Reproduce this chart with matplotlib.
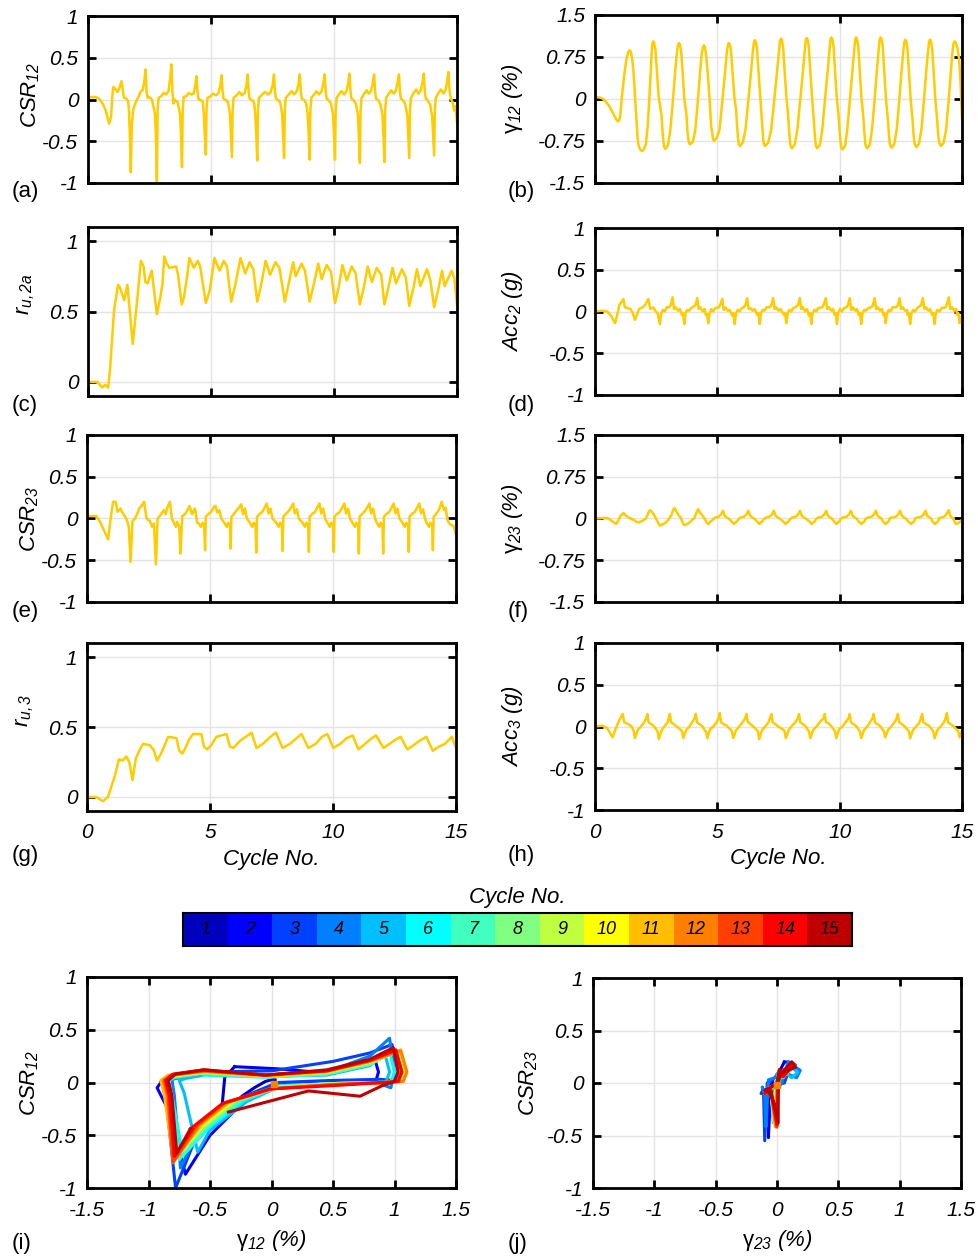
import numpy as np
import matplotlib
matplotlib.use("Agg")
import matplotlib.pyplot as plt

plt.rcParams['font.family'] = ['Liberation Sans', 'DejaVu Sans']
plt.rcParams['font.style'] = 'italic'
plt.rcParams['mathtext.fontset'] = 'custom'
plt.rcParams['mathtext.rm'] = 'Liberation Sans:italic'
plt.rcParams['mathtext.it'] = 'Liberation Sans:italic'
plt.rcParams['mathtext.sf'] = 'Liberation Sans:italic'
plt.rcParams['mathtext.bf'] = 'Liberation Sans:italic:bold'
plt.rcParams['axes.unicode_minus'] = False

# ---------------- data: CSR12 / gamma12 (shared time base) ----------------
t12 = [0.00, 0.15, 0.30, 0.45, 0.60, 0.72, 0.86, 0.94, 0.99, 1.03, 1.10, 1.20, 1.28,
       1.36, 1.42, 1.46, 1.52, 1.58, 1.63, 1.67, 1.71, 1.74, 1.78, 1.84, 1.92, 2.00, 2.08, 2.15, 2.22, 2.28, 2.31,
       2.34, 2.38, 2.42, 2.47, 2.53, 2.60, 2.72, 2.76, 2.80, 2.83, 2.87, 2.98, 3.08, 3.18, 3.27, 3.34,
       3.39, 3.43, 3.47, 3.52, 3.58, 3.64, 3.74, 3.78, 3.82, 3.85, 3.89, 4.00, 4.10, 4.20, 4.29, 4.36,
       4.41, 4.45, 4.49, 4.54, 4.60, 4.67, 4.71, 4.75, 4.79, 4.82, 4.86, 4.98, 5.09, 5.20, 5.31, 5.38,
       5.43, 5.47, 5.51, 5.56, 5.62, 5.69, 5.77, 5.81, 5.85, 5.88, 5.92, 6.04, 6.15, 6.26, 6.37, 6.44,
       6.49, 6.53, 6.57, 6.62, 6.68, 6.75, 6.80, 6.84, 6.88, 6.91, 6.95, 7.08, 7.20, 7.32, 7.43, 7.51,
       7.56, 7.60, 7.64, 7.69, 7.75, 7.82, 7.89, 7.93, 7.97, 8.00, 8.04, 8.16, 8.27, 8.38, 8.49, 8.56,
       8.61, 8.65, 8.69, 8.74, 8.80, 8.87, 8.93, 8.97, 9.01, 9.04, 9.08, 9.19, 9.29, 9.39, 9.50, 9.57,
       9.62, 9.66, 9.70, 9.75, 9.81, 9.88, 9.96, 10.00, 10.04, 10.07, 10.11, 10.22, 10.31, 10.41, 10.51, 10.58,
       10.63, 10.67, 10.71, 10.76, 10.82, 10.89, 10.97, 11.01, 11.05, 11.08, 11.12, 11.23, 11.32, 11.42, 11.51, 11.58,
       11.63, 11.67, 11.71, 11.76, 11.82, 11.89, 11.97, 12.01, 12.05, 12.08, 12.12, 12.23, 12.33, 12.43, 12.52, 12.59,
       12.64, 12.68, 12.72, 12.77, 12.83, 12.90, 12.98, 13.02, 13.06, 13.09, 13.13, 13.24, 13.34, 13.44, 13.53, 13.60,
       13.65, 13.69, 13.73, 13.78, 13.84, 13.91, 13.99, 14.03, 14.07, 14.10, 14.14, 14.25, 14.35, 14.45, 14.54, 14.60,
       14.65, 14.70, 14.75, 14.82, 14.88, 14.94, 15.00]
gam12 = [0.03, 0.03, 0.01, -0.05, -0.14, -0.24, -0.36, -0.40, -0.38, -0.30, 0.05, 0.45, 0.70,
         0.84, 0.87, 0.85, 0.72, 0.45, 0.10, -0.20, -0.50, -0.70, -0.82, -0.90, -0.93, -0.90, -0.80, -0.50, 0.00, 0.50, 0.80,
         0.98, 1.03, 1.00, 0.88, 0.50, 0.05, -0.30, -0.58, -0.78, -0.86, -0.89, -0.83, -0.55, -0.05, 0.45, 0.80,
         0.96, 1.00, 0.97, 0.85, 0.50, 0.05, -0.30, -0.58, -0.74, -0.79, -0.81, -0.76, -0.55, -0.05, 0.45, 0.80,
         0.92, 0.96, 0.93, 0.80, 0.50, 0.08, -0.20, -0.50, -0.60, -0.71, -0.75, -0.69, -0.55, -0.05, 0.45, 0.80,
         0.96, 1.00, 0.97, 0.85, 0.50, 0.07, -0.22, -0.50, -0.72, -0.81, -0.84, -0.78, -0.55, -0.05, 0.45, 0.80,
         1.00, 1.05, 1.02, 0.90, 0.50, 0.06, -0.25, -0.52, -0.75, -0.81, -0.84, -0.78, -0.55, -0.05, 0.45, 0.80,
         1.03, 1.08, 1.05, 0.92, 0.50, 0.05, -0.28, -0.54, -0.77, -0.85, -0.88, -0.82, -0.55, -0.05, 0.45, 0.80,
         1.04, 1.09, 1.06, 0.93, 0.50, 0.04, -0.30, -0.56, -0.78, -0.85, -0.88, -0.82, -0.55, -0.05, 0.45, 0.80,
         1.05, 1.10, 1.07, 0.94, 0.50, 0.03, -0.32, -0.58, -0.80, -0.87, -0.90, -0.84, -0.55, -0.05, 0.45, 0.80,
         1.05, 1.10, 1.07, 0.94, 0.50, 0.02, -0.34, -0.60, -0.80, -0.85, -0.88, -0.82, -0.55, -0.05, 0.45, 0.80,
         1.05, 1.10, 1.07, 0.94, 0.50, 0.01, -0.36, -0.62, -0.80, -0.84, -0.87, -0.81, -0.55, -0.05, 0.45, 0.80,
         1.01, 1.06, 1.03, 0.90, 0.50, 0.00, -0.38, -0.64, -0.79, -0.83, -0.86, -0.80, -0.55, -0.05, 0.45, 0.80,
         1.01, 1.06, 1.03, 0.90, 0.50, -0.01, -0.40, -0.66, -0.77, -0.81, -0.84, -0.78, -0.55, -0.05, 0.45, 0.80,
         0.99, 1.03, 1.00, 0.90, 0.72, 0.30, -0.35]
csr12 = [0.02, 0.03, 0.03, 0.01, -0.05, -0.13, -0.29, -0.20, 0.05, 0.15, 0.13, 0.09, 0.14,
         0.22, 0.10, 0.02, 0.02, 0.00, -0.02, -0.15, -0.50, -0.87, -0.30, -0.12, -0.05, 0.00, 0.05, 0.10, 0.11, 0.20, 0.28,
         0.36, 0.10, 0.02, 0.03, 0.02, 0.00, -0.17, -0.42, -1.00, -0.12, 0.02, 0.04, 0.08, 0.06, 0.10, 0.25,
         0.42, 0.10, -0.05, 0.00, -0.02, -0.03, -0.17, -0.42, -0.81, -0.12, 0.03, 0.04, 0.08, 0.06, 0.07, 0.16,
         0.28, 0.10, 0.00, 0.00, -0.01, -0.03, -0.18, -0.45, -0.66, -0.10, 0.02, 0.04, 0.07, 0.05, 0.08, 0.17,
         0.29, 0.10, 0.01, 0.00, -0.01, -0.03, -0.17, -0.42, -0.69, -0.12, 0.02, 0.05, 0.09, 0.05, 0.08, 0.17,
         0.30, 0.10, 0.01, 0.00, -0.01, -0.04, -0.17, -0.42, -0.73, -0.12, 0.02, 0.06, 0.09, 0.06, 0.09, 0.18,
         0.30, 0.10, 0.01, 0.00, -0.01, -0.04, -0.17, -0.42, -0.70, -0.12, 0.02, 0.06, 0.10, 0.06, 0.10, 0.19,
         0.30, 0.10, 0.01, 0.00, -0.01, -0.05, -0.17, -0.42, -0.72, -0.12, 0.02, 0.06, 0.10, 0.06, 0.10, 0.20,
         0.30, 0.10, 0.01, 0.00, -0.02, -0.05, -0.18, -0.42, -0.72, -0.12, 0.02, 0.07, 0.10, 0.06, 0.10, 0.20,
         0.31, 0.10, 0.01, 0.00, -0.02, -0.05, -0.18, -0.43, -0.76, -0.12, 0.02, 0.07, 0.11, 0.07, 0.11, 0.20,
         0.30, 0.10, 0.01, 0.00, -0.02, -0.06, -0.19, -0.43, -0.75, -0.12, 0.02, 0.07, 0.11, 0.07, 0.11, 0.21,
         0.30, 0.10, 0.01, 0.00, -0.02, -0.06, -0.19, -0.44, -0.70, -0.12, 0.02, 0.08, 0.12, 0.07, 0.11, 0.21,
         0.31, 0.10, 0.01, 0.00, -0.03, -0.06, -0.20, -0.44, -0.67, -0.12, 0.02, 0.08, 0.12, 0.07, 0.12, 0.22,
         0.33, 0.10, 0.01, -0.03, -0.13, -0.08, -0.28]

# ---------------- data: CSR23 / gamma23 (shared time base) ----------------
t23 = [0.00, 0.38, 0.55, 0.70, 0.86, 0.96, 1.06, 1.17, 1.24, 1.36, 1.42, 1.60, 1.70, 1.77, 1.85, 1.95, 2.08,
       2.12, 2.21, 2.26, 2.32, 2.42, 2.55, 2.65, 2.72, 2.80, 2.87, 2.96, 3.03, 3.12, 3.20, 3.25, 3.37, 3.45,
       3.50, 3.61, 3.66, 3.75, 3.80, 3.87, 3.98, 4.05, 4.16, 4.22, 4.27, 4.39, 4.48, 4.55, 4.63, 4.70, 4.76,
       4.80, 4.83, 4.92, 5.05, 5.16, 5.23, 5.30, 5.38, 5.46, 5.58, 5.68, 5.74, 5.81,
       5.84, 5.87, 5.96, 6.09, 6.20, 6.27, 6.34, 6.42, 6.50, 6.62, 6.72, 6.78, 6.85,
       6.88, 6.91, 7.00, 7.13, 7.24, 7.31, 7.38, 7.46, 7.54, 7.69, 7.79, 7.85, 7.92,
       7.95, 7.98, 8.07, 8.20, 8.31, 8.38, 8.45, 8.53, 8.61, 8.76, 8.86, 8.92, 8.99,
       9.02, 9.05, 9.14, 9.27, 9.38, 9.45, 9.52, 9.60, 9.68, 9.77, 9.87, 9.93, 10.00,
       10.03, 10.06, 10.15, 10.28, 10.39, 10.46, 10.53, 10.61, 10.69, 10.79, 10.89, 10.95, 11.02,
       11.05, 11.08, 11.17, 11.30, 11.41, 11.48, 11.55, 11.63, 11.71, 11.78, 11.88, 11.94, 12.01,
       12.04, 12.07, 12.16, 12.29, 12.40, 12.47, 12.54, 12.62, 12.70, 12.82, 12.92, 12.98, 13.05,
       13.08, 13.11, 13.20, 13.33, 13.44, 13.51, 13.58, 13.66, 13.74, 13.80, 13.90, 13.96, 14.03,
       14.06, 14.09, 14.18, 14.30, 14.42, 14.46, 14.52, 14.58, 14.64, 14.70, 14.76, 14.85, 14.92, 15.00]
gam23 = [0.00, 0.01, 0.00, -0.05, -0.10, -0.03, 0.06, 0.10, 0.06, 0.02, 0.01, -0.03, -0.06, -0.07, -0.06, -0.04, 0.00,
         0.04, 0.13, 0.15, 0.12, 0.06, -0.05, -0.13, -0.11, -0.10, -0.08, -0.04, 0.00, 0.06, 0.16, 0.19, 0.09, 0.04,
         0.02, -0.10, -0.12, -0.10, -0.09, -0.07, -0.02, 0.00, 0.12, 0.17, 0.12, 0.05, 0.00, -0.06, -0.10, -0.06, -0.04,
         -0.03, -0.01, 0.02, 0.03, 0.08, 0.14, 0.05, 0.02, 0.00, -0.05, -0.10, -0.07, -0.05,
         -0.03, -0.01, 0.02, 0.03, 0.08, 0.14, 0.05, 0.02, 0.00, -0.05, -0.10, -0.07, -0.05,
         -0.02, -0.01, 0.02, 0.03, 0.08, 0.14, 0.05, 0.02, 0.00, -0.05, -0.10, -0.07, -0.05,
         -0.02, -0.01, 0.02, 0.03, 0.08, 0.14, 0.05, 0.02, 0.00, -0.05, -0.10, -0.07, -0.05,
         -0.02, 0.00, 0.02, 0.03, 0.08, 0.14, 0.05, 0.02, 0.00, -0.05, -0.10, -0.07, -0.05,
         -0.01, 0.00, 0.02, 0.03, 0.08, 0.14, 0.05, 0.02, 0.00, -0.06, -0.10, -0.07, -0.05,
         -0.01, 0.00, 0.02, 0.03, 0.08, 0.14, 0.05, 0.02, 0.00, -0.06, -0.10, -0.07, -0.05,
         0.00, 0.01, 0.02, 0.03, 0.08, 0.14, 0.05, 0.02, 0.00, -0.06, -0.10, -0.07, -0.05,
         0.00, 0.01, 0.02, 0.03, 0.08, 0.14, 0.05, 0.02, 0.00, -0.06, -0.10, -0.07, -0.05,
         0.01, 0.01, 0.02, 0.04, 0.12, 0.15, 0.05, 0.02, 0.00, -0.06, -0.10, -0.08, -0.06, -0.02]
csr23 = [0.03, 0.03, -0.05, -0.15, -0.25, 0.00, 0.20, 0.20, 0.08, 0.12, 0.08, 0.00, -0.10, -0.52, -0.03, 0.00, 0.08,
         0.12, 0.15, 0.17, 0.20, 0.00, -0.03, -0.10, -0.06, -0.55, 0.00, 0.03, 0.06, 0.10, 0.05, 0.12, 0.20, 0.00,
         -0.03, -0.10, -0.04, -0.10, -0.42, 0.03, 0.05, 0.08, 0.15, 0.10, 0.05, 0.12, -0.05, -0.06, -0.10, -0.05, -0.08,
         -0.38, 0.02, 0.05, 0.08, 0.14, 0.15, 0.07, 0.10, 0.00, -0.05, -0.10, -0.05, -0.08,
         -0.36, 0.02, 0.05, 0.10, 0.14, 0.17, 0.05, 0.12, 0.00, -0.05, -0.10, -0.05, -0.08,
         -0.41, 0.02, 0.05, 0.08, 0.14, 0.18, 0.06, 0.12, 0.00, -0.05, -0.10, -0.05, -0.08,
         -0.39, 0.02, 0.05, 0.09, 0.14, 0.18, 0.06, 0.11, 0.00, -0.05, -0.10, -0.05, -0.08,
         -0.40, 0.02, 0.05, 0.08, 0.14, 0.18, 0.06, 0.12, 0.00, -0.05, -0.10, -0.05, -0.08,
         -0.40, 0.02, 0.05, 0.08, 0.14, 0.18, 0.06, 0.12, 0.00, -0.05, -0.10, -0.05, -0.08,
         -0.42, 0.02, 0.05, 0.09, 0.14, 0.18, 0.06, 0.12, 0.00, -0.05, -0.10, -0.05, -0.08,
         -0.42, 0.02, 0.05, 0.08, 0.14, 0.18, 0.06, 0.12, 0.00, -0.05, -0.10, -0.05, -0.08,
         -0.40, 0.02, 0.05, 0.08, 0.14, 0.18, 0.06, 0.11, 0.00, -0.05, -0.10, -0.05, -0.08,
         -0.38, 0.02, 0.05, 0.10, 0.20, 0.15, 0.10, 0.13, 0.00, -0.05, -0.07, -0.08, -0.10, -0.20]

# ---------------- data: pore pressure ratio r_u,2a ----------------
t_ru2 = [0.0, 0.38, 0.58, 0.7, 0.82, 0.9, 1.06, 1.22, 1.3, 1.47, 1.6, 1.7, 1.82, 2.01, 2.15, 2.26, 2.33, 2.42,
         2.59, 2.8, 2.94, 3.03, 3.1, 3.2, 3.31, 3.58, 3.66, 3.81, 3.9, 4.03, 4.12, 4.2, 4.3, 4.46, 4.56, 4.79,
         4.95, 5.14, 5.35, 5.52, 5.65, 5.82, 6.0, 6.2, 6.39, 6.57, 6.72, 6.88, 7.05, 7.22, 7.4, 7.62, 7.78, 8.0,
         8.16, 8.34, 8.44, 8.68, 8.82, 9.01, 9.16, 9.36, 9.5, 9.7, 9.88, 10.04, 10.2, 10.34, 10.52, 10.72, 10.88,
         11.05, 11.21, 11.37, 11.54, 11.74, 11.92, 12.05, 12.21, 12.38, 12.52, 12.76, 12.92, 13.06, 13.22, 13.37,
         13.51, 13.78, 13.92, 14.07, 14.23, 14.39, 14.5, 14.78, 14.89, 15.0]
ru2 = [0.0, 0.0, -0.04, -0.02, -0.04, 0.1, 0.51, 0.69, 0.67, 0.58, 0.69, 0.5, 0.27, 0.6, 0.86, 0.82, 0.71, 0.7,
       0.79, 0.48, 0.6, 0.7, 0.89, 0.84, 0.81, 0.82, 0.76, 0.55, 0.6, 0.75, 0.88, 0.85, 0.81, 0.86, 0.82, 0.56,
       0.65, 0.88, 0.79, 0.86, 0.82, 0.57, 0.7, 0.88, 0.77, 0.85, 0.8, 0.57, 0.7, 0.86, 0.76, 0.85, 0.81, 0.57,
       0.7, 0.85, 0.75, 0.84, 0.79, 0.57, 0.68, 0.84, 0.73, 0.83, 0.78, 0.56, 0.68, 0.83, 0.72, 0.82, 0.77,
       0.55, 0.67, 0.82, 0.71, 0.81, 0.76, 0.55, 0.67, 0.81, 0.70, 0.80, 0.74, 0.54, 0.66, 0.80,
       0.68, 0.80, 0.72, 0.53, 0.65, 0.79, 0.68, 0.79, 0.74, 0.55]

# ---------------- data: pore pressure ratio r_u,3 ----------------
t_ru3 = [0, 0.38, 0.65, 0.85, 1.0, 1.13, 1.3, 1.45, 1.6, 1.72, 1.85, 1.98, 2.12, 2.28, 2.55, 2.7, 2.85, 2.98,
         3.16, 3.3, 3.64, 3.75, 3.88, 4.0, 4.15, 4.31, 4.65, 4.75, 4.88, 5.05, 5.26, 5.67, 5.81, 5.95, 6.21, 6.45,
         6.69, 6.89, 7.15, 7.46, 7.68, 7.95, 8.25, 8.52, 8.72, 9.0, 9.3, 9.55, 9.77, 10.01, 10.3, 10.55, 10.8,
         11.03, 11.3, 11.5, 11.75, 12.05, 12.3, 12.55, 12.75, 13.02, 13.27, 13.5, 13.79, 14.06, 14.3, 14.55, 14.83, 15.0]
ru3 = [0.0, 0.0, -0.03, 0.0, 0.08, 0.15, 0.27, 0.26, 0.29, 0.25, 0.12, 0.27, 0.33, 0.38, 0.37, 0.34, 0.26, 0.30,
       0.37, 0.43, 0.42, 0.33, 0.31, 0.35, 0.41, 0.45, 0.45, 0.36, 0.34, 0.37, 0.43, 0.45, 0.36, 0.35, 0.40, 0.43,
       0.46, 0.35, 0.38, 0.43, 0.46, 0.35, 0.38, 0.42, 0.45, 0.35, 0.38, 0.43, 0.45, 0.35, 0.38, 0.42, 0.44,
       0.34, 0.38, 0.41, 0.44, 0.35, 0.38, 0.41, 0.43, 0.34, 0.37, 0.40, 0.43, 0.33, 0.36, 0.38, 0.43, 0.35]

# ---------------- data: acceleration Acc2 ----------------
t_acc2 = [0.0, 0.3, 0.5, 0.65, 0.82, 0.9, 1.0, 1.16, 1.22, 1.35, 1.45, 1.55, 1.63, 1.7, 1.8, 1.95, 2.05, 2.18, 2.26, 2.38, 2.48, 2.56,
          2.65, 2.70, 2.77, 2.85, 2.93, 3.03, 3.10, 3.17, 3.23, 3.30, 3.39, 3.47, 3.55, 3.60,
          3.65, 3.70, 3.77, 3.85, 3.93, 4.04, 4.11, 4.18, 4.24, 4.31, 4.40, 4.48, 4.53, 4.58,
          4.63, 4.68, 4.75, 4.83, 4.91, 5.06, 5.13, 5.20, 5.26, 5.33, 5.42, 5.50, 5.61, 5.66,
          5.71, 5.76, 5.83, 5.91, 5.99, 6.08, 6.15, 6.22, 6.28, 6.35, 6.44, 6.52, 6.63, 6.68,
          6.73, 6.78, 6.85, 6.93, 7.01, 7.14, 7.21, 7.28, 7.34, 7.41, 7.50, 7.58, 7.72, 7.77,
          7.82, 7.87, 7.94, 8.02, 8.10, 8.23, 8.30, 8.37, 8.43, 8.50, 8.59, 8.67, 8.74, 8.79,
          8.84, 8.89, 8.96, 9.04, 9.12, 9.29, 9.36, 9.43, 9.49, 9.56, 9.65, 9.73, 9.79, 9.84,
          9.89, 9.94, 10.01, 10.09, 10.17, 10.27, 10.34, 10.41, 10.47, 10.54, 10.63, 10.71, 10.78, 10.83,
          10.88, 10.93, 11.00, 11.08, 11.16, 11.29, 11.36, 11.43, 11.49, 11.56, 11.65, 11.73, 11.78, 11.83,
          11.88, 11.93, 12.00, 12.08, 12.16, 12.31, 12.38, 12.45, 12.51, 12.58, 12.67, 12.75, 12.78, 12.83,
          12.88, 12.93, 13.00, 13.08, 13.16, 13.26, 13.33, 13.40, 13.46, 13.53, 13.62, 13.70, 13.78, 13.83,
          13.88, 13.93, 14.00, 14.08, 14.16, 14.32, 14.39, 14.46, 14.52, 14.59, 14.68, 14.76, 14.80, 14.85,
          14.90, 15.00]
acc2 = [0.0, 0.01, 0.0, -0.05, -0.14, -0.05, 0.08, 0.15, 0.05, 0.04, 0.03, -0.02, -0.10, -0.05, 0.03, 0.05, 0.08, 0.15, 0.03, 0.05, 0.0, -0.02,
        -0.15, -0.03, 0.02, 0.00, 0.05, 0.05, 0.08, 0.17, 0.03, 0.05, 0.01, 0.03, -0.04, -0.02,
        -0.15, -0.02, 0.02, 0.01, 0.04, 0.06, 0.08, 0.16, 0.03, 0.05, 0.00, 0.03, -0.04, -0.03,
        -0.14, -0.03, 0.03, 0.00, 0.04, 0.05, 0.09, 0.15, 0.02, 0.05, 0.01, 0.02, -0.05, -0.02,
        -0.15, -0.03, 0.02, 0.00, 0.04, 0.05, 0.08, 0.16, 0.03, 0.04, 0.01, 0.03, -0.04, -0.02,
        -0.15, -0.02, 0.02, 0.01, 0.05, 0.05, 0.08, 0.16, 0.03, 0.05, 0.01, 0.03, -0.04, -0.02,
        -0.14, -0.03, 0.02, 0.00, 0.04, 0.06, 0.08, 0.16, 0.03, 0.05, 0.00, 0.03, -0.05, -0.02,
        -0.15, -0.03, 0.02, 0.00, 0.04, 0.05, 0.09, 0.16, 0.03, 0.05, 0.01, 0.03, -0.04, -0.02,
        -0.15, -0.02, 0.03, 0.00, 0.04, 0.05, 0.08, 0.16, 0.02, 0.05, 0.01, 0.03, -0.04, -0.02,
        -0.15, -0.03, 0.02, 0.01, 0.04, 0.05, 0.08, 0.16, 0.03, 0.05, 0.01, 0.03, -0.04, -0.02,
        -0.14, -0.03, 0.02, 0.00, 0.05, 0.05, 0.08, 0.16, 0.03, 0.05, 0.01, 0.02, -0.04, -0.02,
        -0.15, -0.03, 0.02, 0.00, 0.04, 0.06, 0.08, 0.16, 0.03, 0.05, 0.01, 0.03, -0.04, -0.02,
        -0.15, -0.02, 0.02, 0.00, 0.04, 0.05, 0.09, 0.17, 0.03, 0.05, 0.01, 0.03, -0.04, -0.02,
        -0.14, -0.04]

# ---------------- data: acceleration Acc3 ----------------
t_acc3 = [0.0, 0.3, 0.5, 0.72, 0.85, 1.0, 1.13, 1.2, 1.35, 1.5, 1.58,
          1.63, 1.75, 1.88, 2.01, 2.09, 2.14, 2.19, 2.29, 2.42, 2.51, 2.56,
          2.61, 2.73, 2.86, 2.97, 3.01, 3.06, 3.11, 3.21, 3.34, 3.51, 3.56,
          3.61, 3.73, 3.86, 3.99, 4.07, 4.12, 4.17, 4.27, 4.40, 4.49, 4.54,
          4.59, 4.71, 4.84, 4.97, 5.05, 5.10, 5.15, 5.25, 5.38, 5.55, 5.60,
          5.65, 5.77, 5.90, 6.03, 6.14, 6.19, 6.24, 6.34, 6.47, 6.61, 6.66,
          6.71, 6.83, 6.96, 7.09, 7.16, 7.21, 7.26, 7.36, 7.49, 7.70, 7.75,
          7.80, 7.92, 8.05, 8.18, 8.29, 8.34, 8.39, 8.49, 8.62, 8.70, 8.75,
          8.80, 8.92, 9.05, 9.18, 9.34, 9.39, 9.44, 9.54, 9.67, 9.76, 9.81,
          9.86, 9.98, 10.11, 10.24, 10.36, 10.41, 10.46, 10.56, 10.69, 10.78, 10.83,
          10.88, 11.00, 11.13, 11.26, 11.34, 11.39, 11.44, 11.54, 11.67, 11.76, 11.81,
          11.86, 11.98, 12.11, 12.24, 12.33, 12.38, 12.43, 12.53, 12.66, 12.78, 12.83,
          12.88, 13.00, 13.13, 13.26, 13.32, 13.37, 13.42, 13.52, 13.65, 13.78, 13.83,
          13.88, 14.00, 14.13, 14.26, 14.33, 14.38, 14.43, 14.53, 14.66, 14.80, 14.85,
          14.90, 15.00]
acc3 = [0.0, 0.01, -0.02, -0.13, -0.02, 0.08, 0.15, 0.05, 0.03, 0.0, -0.05,
        -0.14, -0.04, 0.00, 0.05, 0.10, 0.15, 0.05, 0.03, 0.00, -0.04, -0.06,
        -0.15, -0.04, 0.01, 0.05, 0.10, 0.15, 0.05, 0.03, 0.00, -0.04, -0.06,
        -0.14, -0.04, 0.00, 0.06, 0.10, 0.15, 0.05, 0.03, 0.00, -0.05, -0.06,
        -0.14, -0.03, 0.00, 0.05, 0.10, 0.16, 0.05, 0.03, 0.01, -0.04, -0.06,
        -0.14, -0.04, 0.00, 0.05, 0.10, 0.15, 0.06, 0.03, 0.00, -0.04, -0.06,
        -0.15, -0.04, 0.00, 0.05, 0.11, 0.15, 0.05, 0.03, 0.00, -0.04, -0.06,
        -0.14, -0.04, 0.01, 0.05, 0.10, 0.15, 0.05, 0.03, 0.00, -0.04, -0.06,
        -0.14, -0.04, 0.00, 0.05, 0.10, 0.15, 0.05, 0.04, 0.00, -0.04, -0.06,
        -0.14, -0.03, 0.00, 0.05, 0.10, 0.15, 0.05, 0.03, 0.00, -0.04, -0.06,
        -0.14, -0.04, 0.00, 0.06, 0.10, 0.15, 0.05, 0.03, 0.00, -0.04, -0.06,
        -0.13, -0.04, 0.00, 0.05, 0.10, 0.15, 0.05, 0.03, 0.00, -0.04, -0.06,
        -0.14, -0.04, 0.00, 0.05, 0.10, 0.15, 0.05, 0.03, 0.01, -0.04, -0.06,
        -0.14, -0.04, 0.00, 0.05, 0.10, 0.16, 0.05, 0.03, 0.00, -0.04, -0.06,
        -0.13, -0.05]

# ---------------- labels / colours ----------------
cycle_labels = [str(i) for i in range(1, 16)]
cycle_colors = [(0, 0, 0.75), (0, 0, 1), (0, 0.25, 1), (0, 0.5, 1), (0, 0.75, 1),
                (0, 1, 1), (0.25, 1, 0.75), (0.5, 1, 0.5), (0.75, 1, 0.25), (1, 1, 0),
                (1, 0.75, 0), (1, 0.5, 0), (1, 0.25, 0), (1, 0, 0), (0.75, 0, 0)]
start_i = ([0.02], [-0.01])
start_j = ([0.0], [-0.02])

LINE = '#FFCC00'
W, H = 979, 1256

fig = plt.figure(figsize=(W / 100, H / 100), dpi=100)


def axpos(x0, y0, x1, y1):
    return fig.add_axes([x0 / W, 1 - y1 / H, (x1 - x0) / W, (y1 - y0) / H])


def style(ax, xlim, xticks, xtl, ylim, yticks, ytl):
    ax.set_xlim(*xlim)
    ax.set_ylim(*ylim)
    ax.set_xticks(xticks)
    ax.set_yticks(yticks)
    ax.set_xticklabels(xtl)
    ax.set_yticklabels(ytl)
    ax.grid(True, color='#e4e4e4', lw=1.0)
    ax.set_axisbelow(True)
    ax.tick_params(direction='in', top=True, right=True, length=6, width=2,
                   labelsize=15, pad=7)
    ax.tick_params(axis='x', pad=9)
    for sp in ax.spines.values():
        sp.set_linewidth(2)


tx = [0, 5, 10, 15]
y1 = ([-1, -0.5, 0, 0.5, 1], ['-1', '-0.5', '0', '0.5', '1'])
yg = ([-1.5, -0.75, 0, 0.75, 1.5], ['-1.5', '-0.75', '0', '0.75', '1.5'])
yr = ([0, 0.5, 1], ['0', '0.5', '1'])

panels = [
    ((88, 16, 457, 183), t12, csr12, (-1, 1), y1, r'$CSR_{12}$', False, (-0.125, 0.53), '(a)', (12, 192)),
    ((595, 15, 962, 183), t12, gam12, (-1.5, 1.5), yg, 'γ$_{12}$ $(\\%)$', False, (-0.19, 0.5), '(b)', (508, 192)),
    ((88, 227, 457, 396), t_ru2, ru2, (-0.1, 1.1), yr, r'$r_{u,2a}$', False, (-0.138, 0.6), '(c)', (12, 405)),
    ((595, 228, 962, 395), t_acc2, acc2, (-1, 1), y1, r'$Acc_{2}$ $(g)$', False, (-0.19, 0.5), '(d)', (508, 405)),
    ((87, 435, 456, 602), t23, csr23, (-1, 1), y1, r'$CSR_{23}$', False, (-0.125, 0.5), '(e)', (12, 611)),
    ((595, 435, 962, 602), t23, gam23, (-1.5, 1.5), yg, 'γ$_{23}$ $(\\%)$', False, (-0.19, 0.5), '(f)', (508, 611)),
    ((87, 643, 456, 811), t_ru3, ru3, (-0.1, 1.1), yr, r'$r_{u,3}$', True, (-0.138, 0.6), '(g)', (12, 855)),
    ((595, 643, 962, 810), t_acc3, acc3, (-1, 1), y1, r'$Acc_{3}$ $(g)$', True, (-0.19, 0.5), '(h)', (508, 855)),
]

for box, tt, vv, ylim, yt, ylab, showx, lc, letter, lpos in panels:
    ax = axpos(*box)
    ax.plot(tt, vv, color=LINE, lw=1.8, solid_joinstyle='round')
    style(ax, (0, 15), tx, ['0', '5', '10', '15'] if showx else [], ylim, yt[0], yt[1])
    st = 'normal' if 'γ' in ylab else 'italic'
    ax.set_ylabel(ylab, fontsize=16, fontstyle=st)
    ax.yaxis.set_label_coords(*lc)
    if showx:
        ax.set_xlabel('Cycle No.', fontsize=16)
        ax.xaxis.set_label_coords(0.5, -0.225)
    fig.text(lpos[0] / W, 1 - lpos[1] / H, letter, fontsize=16, fontstyle='normal',
             ha='left', va='center')

# ---------------- colour bar ----------------
cax = axpos(183, 913, 852, 946)
cax.bar(np.arange(15), [1] * 15, width=1, align='edge', color=cycle_colors, edgecolor='none')
cax.set_xlim(0, 15)
cax.set_ylim(0, 1)
cax.set_xticks([])
cax.set_yticks([])
for sp in cax.spines.values():
    sp.set_linewidth(1.5)
for i, lab in enumerate(cycle_labels):
    cax.text(i + 0.5, 0.5, lab, ha='center', va='center', fontsize=13, color='black')
fig.text((183 + 852) / 2 / W, 1 - 898 / H, 'Cycle No.', fontsize=16, ha='center', va='center')


# ---------------- hysteresis loops ----------------
def loops(ax, tt, gx, sy):
    tt = np.asarray(tt)
    gx = np.asarray(gx)
    sy = np.asarray(sy)
    cyc = np.minimum(np.floor(tt).astype(int) + 1, 15)
    for c in range(1, 16):
        idx = np.where(cyc == c)[0]
        if len(idx) == 0:
            continue
        if idx[-1] + 1 < len(tt):
            idx = np.append(idx, idx[-1] + 1)
        ax.plot(gx[idx], sy[idx], color=cycle_colors[c - 1], lw=2.2, solid_joinstyle='round')


xl = ([-1.5, -1, -0.5, 0, 0.5, 1, 1.5], ['-1.5', '-1', '-0.5', '0', '0.5', '1', '1.5'])

axi = axpos(87, 977, 456, 1188)
loops(axi, t12, gam12, csr12)
axi.plot(*start_i, 's', color=(1, 0.5, 0), ms=5)
style(axi, (-1.5, 1.5), xl[0], xl[1], (-1, 1), y1[0], y1[1])
axi.set_ylabel(r'$CSR_{12}$', fontsize=16)
axi.yaxis.set_label_coords(-0.125, 0.5)
axi.set_xlabel('γ$_{12}$ $(\\%)$', fontsize=16, fontstyle='normal')
axi.xaxis.set_label_coords(0.5, -0.19)
fig.text(12 / W, 1 - 1243 / H, '(i)', fontsize=16, fontstyle='normal', ha='left', va='center')

axj = axpos(593, 978, 961, 1188)
loops(axj, t23, gam23, csr23)
axj.plot(*start_j, 's', color=(1, 0.5, 0), ms=5)
style(axj, (-1.5, 1.5), xl[0], xl[1], (-1, 1), y1[0], y1[1])
axj.set_ylabel(r'$CSR_{23}$', fontsize=16)
axj.yaxis.set_label_coords(-0.144, 0.5)
axj.set_xlabel('γ$_{23}$ $(\\%)$', fontsize=16, fontstyle='normal')
axj.xaxis.set_label_coords(0.5, -0.19)
fig.text(508 / W, 1 - 1243 / H, '(j)', fontsize=16, fontstyle='normal', ha='left', va='center')

fig.savefig('out.png', dpi=100)
